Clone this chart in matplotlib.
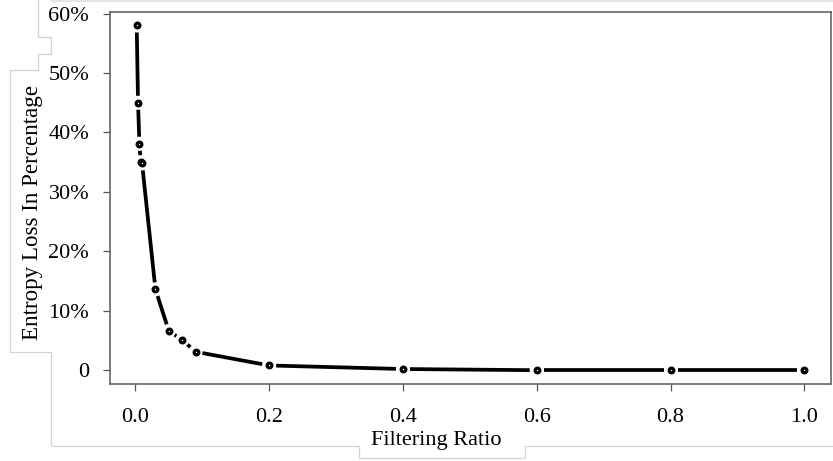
import numpy as np
import matplotlib.pyplot as plt
from matplotlib.lines import Line2D

plt.rcParams['font.family'] = ['Liberation Serif', 'DejaVu Serif']

# Filtering ratio vs. entropy loss
ratio = [0.002, 0.004, 0.006, 0.008, 0.01, 0.03, 0.05, 0.07, 0.09, 0.2, 0.4, 0.6, 0.8, 1.0]
loss = [0.58, 0.45, 0.381, 0.35, 0.348, 0.136, 0.066, 0.051, 0.031, 0.008, 0.002, 0.0, 0.0, 0.0]

y_ticks = [0, 0.1, 0.2, 0.3, 0.4, 0.5, 0.6]
y_labels = ['0', '10%', '20%', '30%', '40%', '50%', '60%']
x_ticks = [0.0, 0.2, 0.4, 0.6, 0.8, 1.0]
x_labels = ['0.0', '0.2', '0.4', '0.6', '0.8', '1.0']

W, H = 833, 461
fig = plt.figure(figsize=(W / 100, H / 100), dpi=100)
ax = fig.add_axes([110 / W, 1 - 384 / H, 721 / W, 372.3 / H])

# R-style 4% padding around the data range
xr = max(ratio) - min(ratio)
yr = max(loss) - min(loss)
ax.set_xlim(min(ratio) - 0.04 * xr, max(ratio) + 0.04 * xr)
ax.set_ylim(min(loss) - 0.04 * yr, max(loss) + 0.04 * yr)

# type="b": segments broken around each point
pts = ax.transData.transform(np.column_stack([ratio, loss]))
gap = 7.0
for p0, p1 in zip(pts[:-1], pts[1:]):
    d = p1 - p0
    dist = np.hypot(*d)
    if dist <= 2 * gap:
        continue
    u = d / dist
    a, b = ax.transData.inverted().transform([p0 + gap * u, p1 - gap * u])
    ax.plot([a[0], b[0]], [a[1], b[1]], color='black', lw=2.7,
            solid_capstyle='butt')
ax.plot(ratio, loss, ls='none', marker='o', ms=3.4, mfc='white',
        mec='black', mew=2.3, zorder=3)

for s in ax.spines.values():
    s.set_color('#666666')
    s.set_linewidth(1.2)

ax.set_yticks(y_ticks, y_labels)
ax.set_xticks(x_ticks, x_labels)
ax.tick_params(direction='out', length=5, width=0.9, color='#555555',
               labelsize=16, labelcolor='black')
ax.tick_params(axis='y', pad=10)
ax.tick_params(axis='x', pad=12)

fig.text(436 / W, 1 - 440 / H, 'Filtering Ratio', ha='center', va='center',
         fontsize=16)
fig.text(33 / W, 1 - 212 / H, 'Entropy Loss In Percentage', ha='center',
         va='center', rotation=90, fontsize=16.6)

# faint outline of the label panels behind the plot
gx = [38, 38, 50.7, 50.7, 38, 38, 10, 10, 50.7, 50.7, 359.3, 359.3, 525, 525, 833]
gy = [0, 37, 37, 54, 54, 70, 70, 351.7, 351.7, 445.7, 445.7, 458.3, 458.3, 446, 446]
fig.add_artist(Line2D([x / W for x in gx], [1 - y / H for y in gy],
                      color='#d4d4d4', lw=0.9))
fig.add_artist(Line2D([50.7 / W, 1], [1 - 0.8 / H, 1 - 0.8 / H],
                      color='#e0e0e0', lw=1.2))

fig.savefig('out.png', dpi=100)
